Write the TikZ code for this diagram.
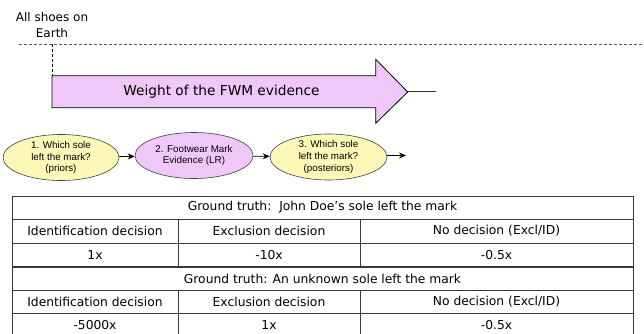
\documentclass[tikz,border=0pt]{standalone}
\usepackage{fontspec}
\setmainfont{DejaVu Sans}
\newfontfamily\helv{Liberation Sans}
\usetikzlibrary{shapes.geometric,arrows.meta}
\definecolor{fwmpink}{HTML}{F0C8F8}
\definecolor{fwmyellow}{HTML}{FCF8B8}
\definecolor{rulegray}{HTML}{3A3A3A}
\tikzset{
  stage/.style={ellipse,draw=black!75,line width=0.6pt,inner sep=0pt,align=center,
    font=\helv\fontsize{9.8}{11.7}\selectfont},
  cell/.style={font=\fontsize{12.3}{14}\selectfont,inner sep=0pt,anchor=center}
}
\begin{document}
\begin{tikzpicture}[x=1pt,y=-1pt,>={Stealth[length=7pt,width=6pt]}]
			\useasboundingbox (0,0) rectangle (644,334);
			\node[align=center,font=\fontsize{12}{16.5}\selectfont] (allshoes) at (52,25) {All shoes on\\Earth};
			\coordinate (earthL) at (19,44); \coordinate (earthR) at (644,44);
			\draw[dash pattern=on 3pt off 2pt,black!65,line width=0.8pt] (earthL)--(earthR);
			\draw[dash pattern=on 3pt off 2pt,line width=0.8pt] (52,44)--(52,108);
			% weight arrow
			\draw[fill=fwmpink,line width=0.8pt,line join=miter] (52,75.7)--(375.7,75.7)--(375.7,59.3)--(407.7,92)
				--(375.7,123.3)--(375.7,107.7)--(52,107.7)--cycle;
			\coordinate (tip) at (407.7,92); \coordinate (tail) at (435.7,92);
			\draw[line width=1pt,black!80] (tip)--(tail);
			\node[font=\fontsize{13.7}{16}\selectfont] (fwm) at (221.5,92) {Weight of the FWM evidence};
			% stages
			\node[stage,fill=fwmyellow,minimum width=116pt,minimum height=41pt] (prior) at (61,157.5) {1. Which sole\\left the mark?\\(priors)};
			\node[stage,fill=fwmpink,minimum width=118pt,minimum height=46pt] (lr) at (194,155.5) {2. Footwear Mark\\Evidence (LR)};
			\node[stage,fill=fwmyellow,minimum width=117pt,minimum height=40pt] (post) at (328.5,157) {3. Which sole\\left the mark?\\(posteriors)};
			\coordinate (out) at (406,155.5);
			\draw[->,line width=0.8pt] (prior)--(lr);
			\draw[->,line width=0.8pt] (lr)--(post);
			\draw[->,line width=0.8pt] (post.east|-out)--(out);
			% table
			\draw[rulegray,line width=0.9pt] (12,337)--(12,196)--(633,196)--(633,337);
			\foreach \y in {219,243,290,313}
			\draw[rulegray,line width=0.9pt] (12,\y)--(633,\y);
			\draw[rulegray,line width=1.8pt] (12,267)--(633,267);
			\foreach \a/\b in {219/267,290/337}
			\draw[rulegray,line width=0.9pt] (178,\a)--(178,\b) (360,\a)--(360,\b);
			\node[cell] (truthA) at (322.5,207.5) {Ground truth:\ \ John Doe’s sole left the mark};
			\node[cell] (truthB) at (322.5,278.5) {Ground truth: An unknown sole left the mark};
			\foreach \y/\r in {231/A,301.5/B}{
			\node[cell] (id\r) at (95,\y) {Identification decision};
			\node[cell] (ex\r) at (269,\y) {Exclusion decision};
			\node[cell] (no\r) at (496.5,\y) {No decision (Excl/ID)};}
			\node[cell] (idvalA) at (95,255) {1x};
			\node[cell] (exvalA) at (269,255) {-10x};
			\node[cell] (novalA) at (496.5,255) {-0.5x};
			\node[cell] (idvalB) at (95,325) {-5000x};
			\node[cell] (exvalB) at (269,325) {1x};
			\node[cell] (novalB) at (496.5,325) {-0.5x};
		\end{tikzpicture}
\end{document}
